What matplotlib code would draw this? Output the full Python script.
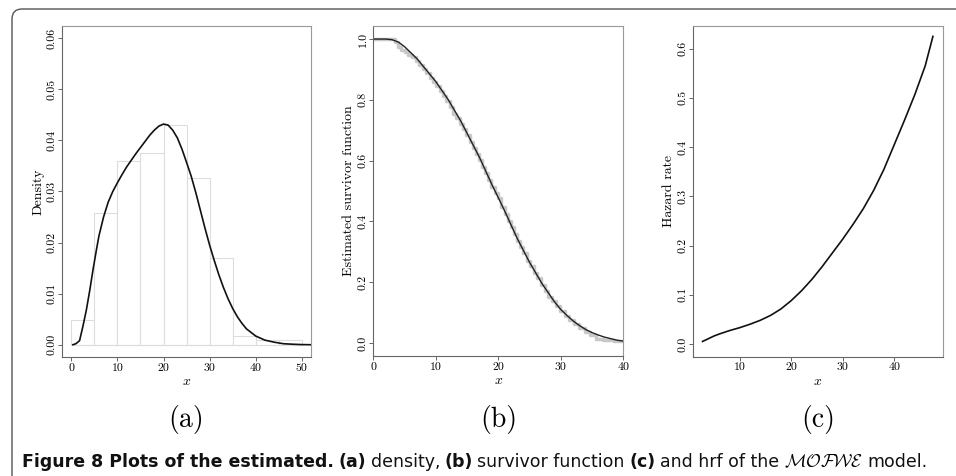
import matplotlib
matplotlib.use("Agg")
import matplotlib.pyplot as plt
from matplotlib.patches import FancyBboxPatch

plt.rcParams['mathtext.fontset'] = 'cm'
plt.rcParams['axes.formatter.use_mathtext'] = True

# histogram (a): bin edges and densities
hist_edges = [0, 5, 10, 15, 20, 25, 30, 35, 40, 45, 50]
hist_dens = [0.0049, 0.0257, 0.0360, 0.0376, 0.0431, 0.0327, 0.0169, 0.0018, 0.0009, 0.0009]

# fitted density (a)
dens_x = [0.35, 1, 1.8, 2.5, 3.25, 4, 4.7, 5.4, 6, 7, 8, 9, 10, 11, 12, 13, 14, 15, 16,
          17, 18, 19, 20, 21, 22, 23, 24, 25, 26, 27, 28, 29, 30, 31, 32, 33, 34, 35, 36,
          37, 38, 40, 42, 44, 46, 48, 50, 52]
dens_y = [0.0, 0.0002, 0.0008, 0.0035, 0.0067, 0.0106, 0.0146, 0.0183, 0.0213,
          0.0250, 0.0279, 0.0300, 0.0317, 0.0333, 0.0348, 0.0361, 0.0374, 0.0386, 0.0398,
          0.0410, 0.0420, 0.0428, 0.0432, 0.0430, 0.0420, 0.0405, 0.0383, 0.0357, 0.0330,
          0.0298, 0.0263, 0.0228, 0.0195, 0.0165, 0.0137, 0.0112, 0.0090, 0.0071, 0.0055,
          0.0042, 0.0031, 0.0017, 0.0009, 0.0005, 0.0002, 0.0001, 0.00003, 0.0]

# fitted survivor function (b)
surv_x = [0, 2, 3, 4, 5, 6, 7, 8, 9, 10, 11, 12, 13, 14, 15, 16, 17, 18, 19, 20, 21, 22,
          23, 24, 25, 26, 27, 28, 29, 30, 31, 32, 33, 34, 35, 36, 37, 38, 39, 40]
surv_y = [1.0, 1.0, 0.998, 0.99, 0.975, 0.955, 0.935, 0.91, 0.885, 0.86, 0.83, 0.80, 0.765,
          0.73, 0.69, 0.65, 0.61, 0.565, 0.52, 0.478, 0.435, 0.39, 0.345, 0.305, 0.265,
          0.23, 0.195, 0.165, 0.135, 0.11, 0.09, 0.072, 0.057, 0.044, 0.034, 0.026, 0.019,
          0.014, 0.009, 0.006]

# empirical survivor steps (b)
km_t = [0, 3.5, 4.0, 4.5, 5.0, 5.6, 6.2, 6.8, 7.3, 7.9, 8.4, 9.0, 9.5, 10.1, 10.6, 11.2,
        11.7, 12.2, 12.8, 13.3, 13.8, 14.3, 14.9, 15.4, 15.9, 16.4, 16.9, 17.4, 17.9, 18.4,
        18.9, 19.4, 19.9, 20.5, 21.0, 21.5, 22.0, 22.5, 23.0, 23.5, 24.0, 24.6, 25.1, 25.7,
        26.2, 26.8, 27.4, 28.0, 28.6, 29.2, 29.9, 30.6, 31.3, 32.1, 32.9, 33.8, 34.7, 35.6,
        36.8, 38.5, 40]
km_s = [1.0, 0.99, 0.975, 0.965, 0.958, 0.948, 0.94, 0.928, 0.915, 0.90, 0.888, 0.872,
        0.86, 0.845, 0.83, 0.812, 0.795, 0.775, 0.755, 0.74, 0.722, 0.705, 0.683, 0.662,
        0.642, 0.622, 0.602, 0.58, 0.558, 0.535, 0.513, 0.495, 0.478, 0.447, 0.425, 0.402,
        0.38, 0.357, 0.335, 0.315, 0.295, 0.271, 0.252, 0.23, 0.213, 0.192, 0.172, 0.152,
        0.138, 0.121, 0.104, 0.09, 0.077, 0.062, 0.048, 0.036, 0.025, 0.012, 0.01, 0.008,
        0.008]

# hazard rate (c)
hrf_x = [2.8, 4, 5, 6, 8, 10, 12, 14, 16, 18, 20, 22, 24, 26, 28, 30, 32, 34, 36, 38, 40,
         42, 44, 46, 47.5]
hrf_y = [0.005, 0.011, 0.016, 0.020, 0.027, 0.033, 0.040, 0.048, 0.058, 0.071, 0.088,
         0.108, 0.131, 0.157, 0.185, 0.213, 0.243, 0.275, 0.312, 0.355, 0.405, 0.455,
         0.507, 0.565, 0.625]

fig = plt.figure(figsize=(9.56, 4.76), dpi=100)

tick_font = dict(family='cmr10', size=8.5)
label_font = dict(family='cmr10', size=10)
axis_col = '#666666'


def style(ax, xticks, yticks, yfmt, ylabel):
    ax.set_xticks(xticks)
    ax.set_xticklabels([str(t) for t in xticks], fontdict=tick_font)
    ax.set_yticks(yticks)
    ax.set_yticklabels([yfmt % t for t in yticks], fontdict=tick_font,
                       rotation=90, va='center')
    ax.tick_params(length=3, width=0.7, color=axis_col, pad=1.5)
    ax.tick_params(axis='y', pad=1)
    for s in ax.spines.values():
        s.set_color('#999999')
        s.set_linewidth(0.8)
    ax.spines['bottom'].set_color(axis_col)
    ax.spines['left'].set_color(axis_col)
    ax.set_xlabel('$x$', fontsize=10, labelpad=1)
    ax.set_ylabel(ylabel, fontdict=label_font, labelpad=2)


# (a) histogram + density
ax1 = fig.add_axes([0.0649, 0.25, 0.2605, 0.6954])
ax1.hist(hist_edges[:-1], bins=hist_edges, weights=hist_dens, facecolor='white',
         edgecolor='#dddddd', linewidth=0.8)
ax1.axhline(0, xmin=0.038, xmax=0.962, color='#dddddd', lw=0.8)
ax1.plot(dens_x, dens_y, color='#111111', lw=1.2)
ax1.set_xlim(-2, 52)
ax1.set_ylim(-0.0024, 0.0624)
style(ax1, [0, 10, 20, 30, 40, 50], [0, 0.01, 0.02, 0.03, 0.04, 0.05, 0.06], '%.2f', 'Density')

# (b) survivor function
ax2 = fig.add_axes([0.3905, 0.2521, 0.2615, 0.6933])
ax2.step(km_t, km_s, where='post', color='#c8c8c8', lw=2.5)
ax2.plot(surv_x, surv_y, color='#222222', lw=1.0)
ax2.set_xlim(0, 40)
ax2.set_ylim(-0.043, 1.043)
style(ax2, [0, 10, 20, 30, 40], [0, 0.2, 0.4, 0.6, 0.8, 1.0], '%.1f',
      'Estimated survivor function')

# (c) hazard rate
ax3 = fig.add_axes([0.7252, 0.2506, 0.2609, 0.6947])
ax3.plot(hrf_x, hrf_y, color='#111111', lw=1.2)
ax3.set_xlim(1.0, 49.4)
ax3.set_ylim(-0.026, 0.646)
style(ax3, [10, 20, 30, 40], [0, 0.1, 0.2, 0.3, 0.4, 0.5, 0.6], '%.1f', 'Hazard rate')

# panel letters
for ax, lab in [(ax1, '(a)'), (ax2, '(b)'), (ax3, '(c)')]:
    pos = ax.get_position()
    fig.text((pos.x0 + pos.x1) / 2, 1 - 420 / 476, lab, family='cmr10', size=20,
             ha='center', va='center')

# outer frame with rounded top-left corner
frame = FancyBboxPatch((0.12, -1.0), 12, 5.67, boxstyle='round,pad=0,rounding_size=0.1',
                       transform=fig.dpi_scale_trans, facecolor='none',
                       edgecolor='#555555', lw=1.0, clip_on=False)
fig.patches.append(frame)

# caption made of bold and regular pieces
cap_font = ['DejaVu Sans']
pieces = [('Figure 8 Plots of the estimated.', 'bold'), ('(a)', 'bold'),
          ('density,', 'normal'), ('(b)', 'bold'), ('survivor function', 'normal'),
          ('(c)', 'bold'), ('and hrf of the', 'normal'), (r'$\mathcal{MOFWE}$', 'math'),
          ('model.', 'normal')]
fig.canvas.draw()
renderer = fig.canvas.get_renderer()
xpix = 22
ypix = 476 - 462
gap = 4.5
for txt, kind in pieces:
    if kind == 'math':
        t = fig.text(xpix / 956, ypix / 476, txt, size=13, va='center', ha='left')
    else:
        t = fig.text(xpix / 956, ypix / 476, txt, family=cap_font, size=12.5,
                     weight=kind, va='center', ha='left', color='#111111')
    bb = t.get_window_extent(renderer)
    xpix += bb.width + gap

fig.savefig('out.png', dpi=100)
